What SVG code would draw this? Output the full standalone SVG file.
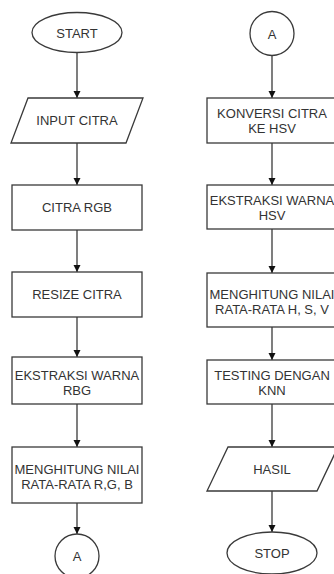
<svg xmlns="http://www.w3.org/2000/svg" width="334" height="574" viewBox="0 0 334 574">
<style>
.s{fill:#fff;stroke:#3a3a3a;stroke-width:1.3}
.t{font-family:"Liberation Sans",Arial,sans-serif;font-size:13px;fill:#333;text-anchor:middle}
.c{stroke:#3a3a3a;stroke-width:1.3;fill:none;marker-end:url(#ah)}
</style>
<defs>
<marker id="ah" markerWidth="8" markerHeight="8" refX="7" refY="4" orient="auto" markerUnits="userSpaceOnUse">
<path d="M0,0.5 L7,4 L0,7.5 Z" fill="#111"/>
</marker>
</defs>
<rect width="334" height="574" fill="#fff"/>
<g id="connectors">
<line class="c" x1="77" y1="53" x2="77" y2="98"/>
<line class="c" x1="77" y1="143" x2="77" y2="185"/>
<line class="c" x1="77" y1="230" x2="77" y2="272"/>
<line class="c" x1="77" y1="317" x2="77" y2="357"/>
<line class="c" x1="77" y1="404" x2="77" y2="447"/>
<line class="c" x1="77" y1="503" x2="77" y2="534"/>
<line class="c" x1="272" y1="55" x2="272" y2="98"/>
<line class="c" x1="272" y1="143" x2="272" y2="185"/>
<line class="c" x1="272" y1="229" x2="272" y2="273"/>
<line class="c" x1="272" y1="327" x2="272" y2="360"/>
<line class="c" x1="272" y1="404" x2="272" y2="447"/>
<line class="c" x1="272" y1="491" x2="272" y2="532"/>
</g>
<g id="start"><ellipse class="s" cx="77" cy="32.5" rx="45" ry="20"/><text class="t" x="77" y="37.5">START</text></g>
<g id="input"><polygon class="s" points="28,98 143,98 126,143 11,143"/><text class="t" x="77" y="125">INPUT CITRA</text></g>
<g id="rgb"><rect class="s" x="12" y="185" width="130" height="45"/><text class="t" x="77" y="212">CITRA RGB</text></g>
<g id="resize"><rect class="s" x="12" y="272" width="130" height="45"/><text class="t" x="77" y="299">RESIZE CITRA</text></g>
<g id="ekstraksi-rbg"><rect class="s" x="12" y="357" width="130" height="47"/><text class="t" x="77" y="379.5">EKSTRAKSI WARNA</text><text class="t" x="77" y="394.5">RBG</text></g>
<g id="menghitung-rgb"><rect class="s" x="12" y="447" width="130" height="56"/><text class="t" x="77" y="474">MENGHITUNG NILAI</text><text class="t" x="77" y="489">RATA-RATA R,G, B</text></g>
<g id="a-out"><circle class="s" cx="77" cy="556" r="22"/><text class="t" x="77" y="561">A</text></g>
<g id="a-in"><circle class="s" cx="272" cy="33.5" r="22"/><text class="t" x="272" y="38.5">A</text></g>
<g id="konversi"><rect class="s" x="207" y="98" width="130" height="45"/><text class="t" x="272" y="118">KONVERSI CITRA</text><text class="t" x="272" y="133">KE HSV</text></g>
<g id="ekstraksi-hsv"><rect class="s" x="207" y="185" width="130" height="44"/><text class="t" x="272" y="204.5">EKSTRAKSI WARNA</text><text class="t" x="272" y="219.5">HSV</text></g>
<g id="menghitung-hsv"><rect class="s" x="207" y="273" width="130" height="54"/><text class="t" x="272" y="299">MENGHITUNG NILAI</text><text class="t" x="272" y="314">RATA-RATA H, S, V</text></g>
<g id="testing"><rect class="s" x="207" y="360" width="130" height="44"/><text class="t" x="272" y="379.5">TESTING DENGAN</text><text class="t" x="272" y="394.5">KNN</text></g>
<g id="hasil"><polygon class="s" points="228,447 338,447 317,491 207,491"/><text class="t" x="272" y="474">HASIL</text></g>
<g id="stop"><ellipse class="s" cx="272" cy="553" rx="45" ry="21"/><text class="t" x="272" y="558">STOP</text></g>
</svg>
